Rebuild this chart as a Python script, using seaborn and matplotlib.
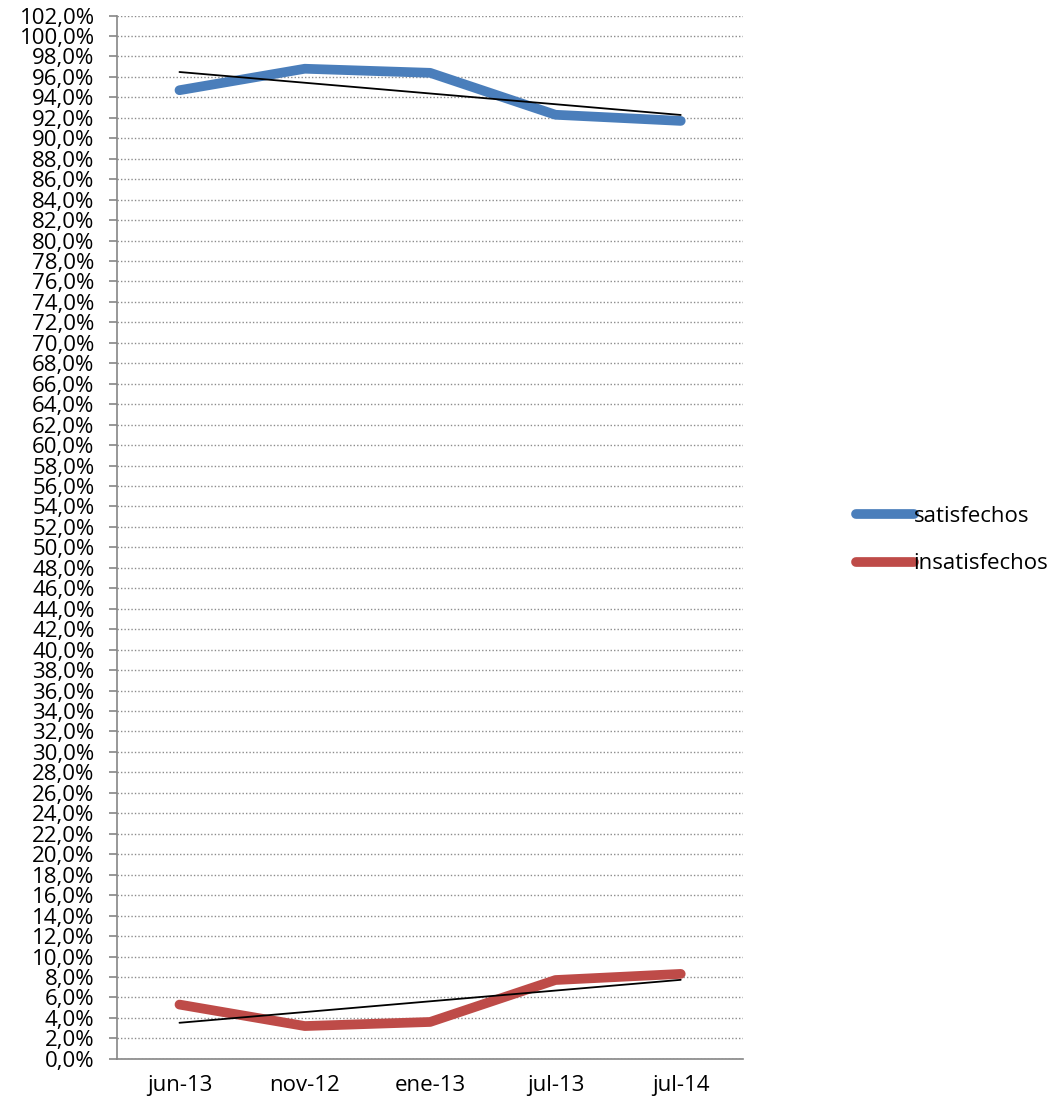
import matplotlib.pyplot as plt
import numpy as np
import pandas as pd
import seaborn as sns
from matplotlib.ticker import FixedLocator, FuncFormatter, MultipleLocator

# datos
periodos = ["jun-13", "nov-12", "ene-13", "jul-13", "jul-14"]
satisfechos = [94.7, 96.8, 96.4, 92.3, 91.7]
insatisfechos = [5.3, 3.2, 3.6, 7.7, 8.3]
series = ["satisfechos", "insatisfechos"]
colores = ["#4A7EBB", "#BE4B48"]

df = pd.DataFrame({
    "periodo": periodos * 2,
    "valor": satisfechos + insatisfechos,
    "serie": [series[0]] * len(periodos) + [series[1]] * len(periodos),
})

sns.set_theme(style="white")
plt.rcParams["font.family"] = ["Open Sans", "DejaVu Sans"]
plt.rcParams["text.color"] = "black"
plt.rcParams["xtick.color"] = "black"
plt.rcParams["ytick.color"] = "black"

fig = plt.figure(figsize=(10.62, 11.11), dpi=100)
ax = fig.add_axes([0.110, 0.047, 0.590, 0.939])

sns.lineplot(data=df, x="periodo", y="valor", hue="serie", palette=colores,
             sort=False, linewidth=7, ax=ax, legend=True,
             solid_capstyle="round", solid_joinstyle="round")

# líneas de tendencia lineales
xs = np.arange(len(periodos))
for vals in (satisfechos, insatisfechos):
    sns.regplot(x=xs, y=vals, scatter=False, ci=None, truncate=True, ax=ax,
                line_kws={"color": "black", "linewidth": 1.3})

ax.set_xlim(-0.5, len(periodos) - 0.5)
ax.set_ylim(0, 102)
ax.yaxis.set_major_locator(MultipleLocator(2))
ax.yaxis.set_major_formatter(FuncFormatter(lambda v, p: f"{v:.1f}%".replace(".", ",")))
ax.set_xticks(xs)
ax.set_xticklabels(periodos)
ax.xaxis.set_minor_locator(FixedLocator(np.arange(-0.5, len(periodos), 1.0)))
ax.tick_params(axis="x", which="major", length=0, pad=12, labelsize=16, labelcolor="black")
ax.tick_params(axis="x", which="minor", length=7, width=1.2, color="#868686", direction="out")
ax.tick_params(axis="y", length=6, width=1.2, color="#868686", direction="out",
               left=True, labelsize=16, pad=10, labelcolor="black")

ax.grid(axis="y", linestyle=(0, (1, 1.5)), color="#8c8c8c", linewidth=1.0)
ax.grid(axis="x", visible=False)
for side in ("top", "right"):
    ax.spines[side].set_visible(False)
for side in ("left", "bottom"):
    ax.spines[side].set_color("#868686")
    ax.spines[side].set_linewidth(1.2)

ax.set_xlabel("")
ax.set_ylabel("")

handles, labels = ax.get_legend_handles_labels()
leg = ax.legend(handles[:2], labels[:2], loc="center left",
                bbox_to_anchor=(0.787, 0.514), bbox_transform=fig.transFigure,
                frameon=False, fontsize=16, handlelength=2.6, handletextpad=0.0,
                labelspacing=1.2)
for h in leg.get_lines():
    h.set_linewidth(7)
    h.set_solid_capstyle("round")
for t in leg.get_texts():
    t.set_color("black")

fig.savefig("out.png", dpi=100)
